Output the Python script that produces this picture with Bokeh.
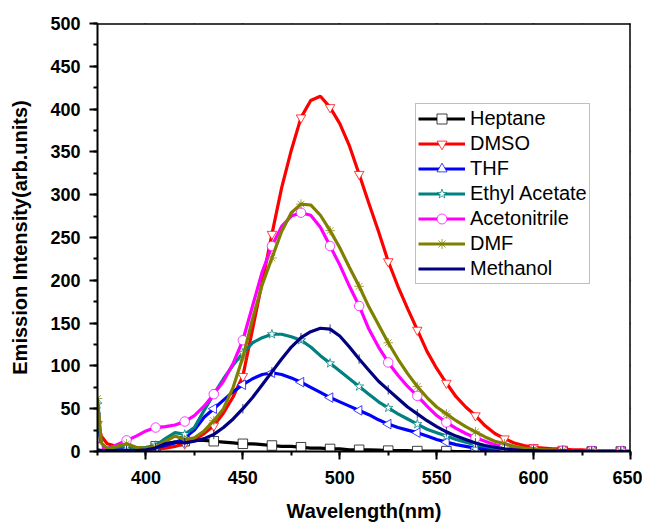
import numpy as np
from bokeh.plotting import figure
from bokeh.models import Range1d, LinearAxis, FixedTicker
from bokeh.embed import file_html
from bokeh.resources import INLINE

# ---------------- data ----------------
wavelength = [375, 377] + list(range(380, 651, 5))

heptane = [5, 3,
           2, 2, 2, 3, 4, 6, 9, 11, 12, 13,
           13, 12, 11, 10, 9, 9, 8, 7, 6, 6,
           5, 4, 4, 3, 3, 2, 2, 2, 1.5, 1,
           1, 1, 0.5, 0.5, 0.5, 0.5, 0, 0, 0, 0,
           0, 0, 0, 0, 0, 0, 0, 0, 0, 0,
           0, 0, 0, 0, 0]

dmso = [32, 18,
        9, 6, 4, 3, 3, 3, 4, 6, 9, 14,
        21, 30, 45, 64, 88, 143, 198, 254, 308, 352,
        390, 410, 415, 402, 383, 357, 324, 290, 257, 222,
        193, 167, 142, 117, 97, 80, 64, 52, 42, 30,
        21, 15, 10, 7, 5, 4, 3, 3, 2, 2,
        1, 1, 1, 1, 0]

thf = [40, 8,
       3, 2, 2, 2, 3, 4, 7, 10, 16, 25,
       40, 50, 60, 70, 78, 85, 90, 92, 90, 86,
       81, 75, 69, 63, 58, 53, 48, 43, 37, 32,
       28, 25, 22, 18, 14, 11, 8, 6, 4, 3,
       2, 1.5, 1, 1, 0.5, 0.5, 0.5, 0.5, 0.5, 0.5,
       0.5, 0.5, 0.5, 0.5, 0]

ethyl_acetate = [55, 6,
                 4, 5, 6, 4, 5, 7, 15, 22, 20, 28,
                 48, 67, 85, 101, 115, 127, 133, 137, 137, 134,
                 130, 122, 112, 103, 94, 85, 76, 67, 58, 51,
                 44, 38, 32, 26, 22, 18, 14, 11, 8, 6,
                 4, 3, 2, 1.5, 1, 1, 1, 1, 0.5, 0.5,
                 0.5, 0.5, 0.5, 0.5, 0]

acetonitrile = [5, 3,
                3, 8, 13, 18, 24, 28, 29, 31, 35, 42,
                53, 67, 82, 103, 130, 170, 210, 240, 263, 275,
                279, 276, 262, 240, 218, 193, 170, 143, 122, 104,
                89, 76, 65, 53, 42, 34, 27, 21, 16, 12,
                8, 5, 3, 2, 2, 1, 1, 1, 1, 0.5,
                0.5, 0.5, 0.5, 0.5, 0]

dmf = [62, 10,
       3, 6, 9, 5, 4, 5, 12, 18, 14, 16,
       24, 36, 50, 75, 110, 155, 195, 226, 257, 279,
       289, 288, 276, 258, 238, 215, 193, 169, 148, 127,
       108, 91, 76, 63, 52, 44, 36, 29, 23, 17,
       12, 9, 6, 4, 3, 2, 2, 1, 1, 1,
       1, 0.5, 0.5, 0.5, 0]

methanol = [2, 1,
            1, 1, 1, 1, 2, 4, 9, 11, 10, 12,
            15, 20, 28, 38, 50, 63, 78, 93, 108, 122,
            133, 140, 144, 143, 135, 122, 108, 95, 82, 72,
            62, 52, 44, 36, 29, 23, 18, 14, 10, 7,
            5, 3, 2, 1, 1, 0.5, 0.5, 0.5, 0.5, 0.5,
            0, 0, 0, 0, 0]

series_names = ["Heptane", "DMSO", "THF", "Ethyl Acetate", "Acetonitrile", "DMF", "Methanol"]
series_values = [heptane, dmso, thf, ethyl_acetate, acetonitrile, dmf, methanol]
series_colors = ["#000000", "#FF0000", "#0000FF", "#008080", "#FF00FF", "#808000", "#000080"]
series_markers = ["square", "inverted_triangle", "triangle", "star", "circle", "asterisk", "dash"]
series_angles = [0, 0, np.pi / 2, 0, 0, 0, np.pi / 2]

x_major = [400, 450, 500, 550, 600, 650]
x_minor = list(range(375, 651, 25))
y_major = list(range(0, 501, 50))
y_minor = list(range(0, 501, 25))

FONT = "Liberation Sans"

# ---------------- figure ----------------
p = figure(frame_width=533, frame_height=428,
           x_range=Range1d(375, 650), y_range=Range1d(0, 500),
           output_backend="svg", toolbar_location=None,
           min_border_left=97, min_border_top=23, min_border_right=12, min_border_bottom=10,
           background_fill_color="white", border_fill_color="white")
p.xgrid.visible = False
p.ygrid.visible = False
p.outline_line_color = None

wl = np.array(wavelength)
mark_mask = ((wl - 375) % 15 == 0)

for name, vals, col, mk, ang in zip(series_names, series_values, series_colors,
                                    series_markers, series_angles):
    v = np.array(vals, dtype=float)
    p.line(wl, v, line_color=col, line_width=3.2, legend_label=name)
    p.scatter(wl[mark_mask], v[mark_mask], marker=mk, angle=ang, size=9.5,
              fill_color="white", line_color=col, line_width=1, line_alpha=0.75,
              legend_label=name)


def style_axis(ax, ticks, minors):
    ax.ticker = FixedTicker(ticks=ticks, minor_ticks=minors)
    ax.axis_line_width = 2
    ax.axis_line_color = "black"
    ax.major_tick_line_width = 2
    ax.minor_tick_line_width = 2
    ax.major_tick_out = 8
    ax.major_tick_in = 0
    ax.minor_tick_out = 4
    ax.minor_tick_in = 0
    ax.major_label_text_font = FONT
    ax.major_label_text_font_style = "bold"
    ax.major_label_text_font_size = "18px"
    ax.major_label_text_color = "black"
    ax.axis_label_text_font = FONT
    ax.axis_label_text_font_style = "bold"
    ax.axis_label_text_font_size = "20px"
    ax.axis_label_text_color = "black"


style_axis(p.xaxis[0], x_major, x_minor)
p.xaxis[0].axis_label = "Wavelength(nm)"
p.xaxis[0].major_label_standoff = 11
p.xaxis[0].axis_label_standoff = 13

style_axis(p.yaxis[0], y_major, y_minor)
p.yaxis[0].axis_label = "Emission Intensity(arb.units)"
p.yaxis[0].major_label_standoff = 9
p.yaxis[0].axis_label_standoff = 16


def tick_only_axis(loc, positions, length, line_width):
    ax = LinearAxis(fixed_location=loc,
                    ticker=FixedTicker(ticks=[], minor_ticks=positions))
    ax.axis_line_width = 2
    ax.axis_line_color = "black"
    ax.minor_tick_out = length
    ax.minor_tick_in = 0
    ax.minor_tick_line_width = line_width
    ax.major_tick_line_color = None
    return ax


# mirrored ticks on top and right (major and minor), no labels
p.add_layout(tick_only_axis(500, x_major, 8, 2), "above")
p.add_layout(tick_only_axis(500, x_minor, 4, 2), "above")
p.add_layout(tick_only_axis(650, y_major, 8, 2), "right")
p.add_layout(tick_only_axis(650, y_minor, 4, 2), "right")

leg = p.legend[0]
leg.location = (318, 167)
leg.label_text_font = FONT
leg.label_text_font_size = "20px"
leg.label_text_color = "black"
leg.label_height = 25
leg.glyph_height = 25
leg.glyph_width = 47
leg.label_standoff = 5
leg.spacing = 0
leg.padding = 2
leg.margin = 0
leg.border_line_color = "#808080"
leg.border_line_width = 1.5
leg.background_fill_color = "white"

open("out.html", "w").write(file_html(p, INLINE))
